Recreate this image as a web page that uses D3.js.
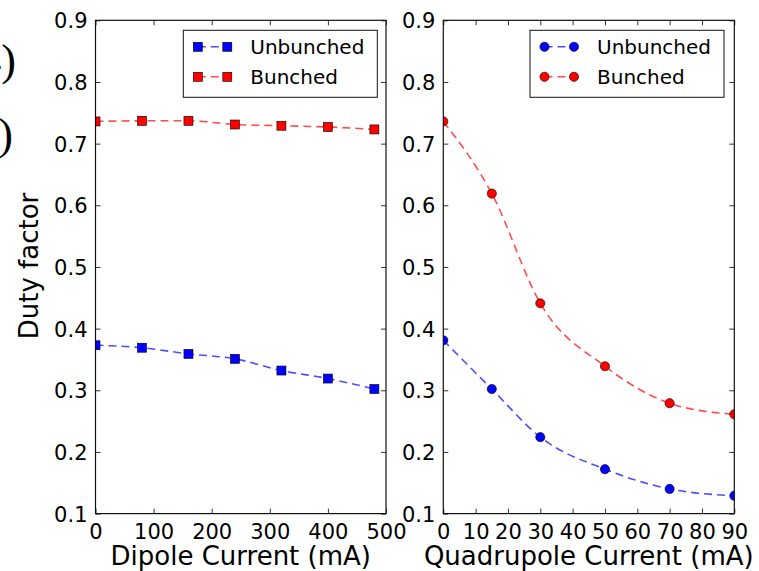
<!DOCTYPE html>
<html>
<head>
<meta charset="utf-8">
<script src="https://cdn.jsdelivr.net/npm/d3@7"></script>
<style>
  body { margin: 0; background: #fff; }
  text { font-family: "DejaVu Sans", sans-serif; fill: #000; }
  .tick-label { font-size: 21px; }
  .axis-title { font-size: 26px; }
  .legend-text { font-size: 20px; }
  .panel-letter { font-family: "Liberation Serif", serif; font-size: 44px; }
</style>
</head>
<body>
<script>
// Data.
var dipoleCurrent   = [0, 80, 160, 240, 320, 400, 480];
var dipoleUnbunched = [0.373, 0.369, 0.359, 0.351, 0.332, 0.319, 0.302];
var dipoleBunched   = [0.736, 0.737, 0.737, 0.731, 0.729, 0.727, 0.723];

var quadCurrent   = [0, 15, 30, 50, 70, 90];
var quadUnbunched = [0.381, 0.302, 0.224, 0.172, 0.140, 0.129];
var quadBunched   = [0.736, 0.619, 0.441, 0.339, 0.279, 0.261];

var dipoleTicks = [0, 100, 200, 300, 400, 500];
var quadTicks   = [0, 10, 20, 30, 40, 50, 60, 70, 80, 90];
var yTicks      = [0.1, 0.2, 0.3, 0.4, 0.5, 0.6, 0.7, 0.8, 0.9];
var seriesNames = ["Unbunched", "Bunched"];

var width = 759, height = 571;
var plotTop = 20.3, plotBottom = 513.6;

var svg = d3.select("body").append("svg")
    .attr("width", width)
    .attr("height", height);

// Cut-off panel letters from the neighbouring figure.
svg.append("text").attr("class", "panel-letter")
    .attr("x", 16).attr("y", 75).attr("text-anchor", "end").text("(4)");
svg.append("text").attr("class", "panel-letter")
    .attr("x", 13).attr("y", 149).attr("text-anchor", "end").text("(5)");

var y = d3.scaleLinear().domain([0.1, 0.9]).range([plotBottom, plotTop]);

var line = function(x) {
  return d3.line()
      .x(function(d) { return x(d[0]); })
      .y(function(d) { return y(d[1]); })
      .curve(d3.curveMonotoneX);
};

function drawMarker(g, shape, color, cx, cy) {
  if (shape === "square") {
    g.append("rect")
        .attr("x", cx - 4.5).attr("y", cy - 4.5)
        .attr("width", 9).attr("height", 9)
        .attr("fill", color).attr("stroke", "#000").attr("stroke-width", 0.6);
  } else {
    g.append("circle")
        .attr("cx", cx).attr("cy", cy).attr("r", 4.6)
        .attr("fill", color).attr("stroke", "#000").attr("stroke-width", 0.6);
  }
}

function drawPanel(id, left, right, xMax, xs, series, ticks, shape, title, legendRight) {
  var x = d3.scaleLinear().domain([0, xMax]).range([left, right]);
  var g = svg.append("g");

  g.append("clipPath").attr("id", id)
    .append("rect")
      .attr("x", left).attr("y", plotTop)
      .attr("width", right - left).attr("height", plotBottom - plotTop);

  var plot = g.append("g").attr("clip-path", "url(#" + id + ")");
  var colors = ["#0000ff", "#ff0000"];

  series.forEach(function(vals, i) {
    var pts = xs.map(function(v, j) { return [v, vals[j]]; });
    plot.append("path")
        .datum(pts)
        .attr("fill", "none")
        .attr("stroke", colors[i])
        .attr("stroke-opacity", 0.7)
        .attr("stroke-width", 1.6)
        .attr("stroke-dasharray", "8,5")
        .attr("d", line(x));
    pts.forEach(function(p) {
      drawMarker(plot, shape, colors[i], x(p[0]), y(p[1]));
    });
  });

  // Ticks pointing inwards on all four sides.
  g.append("g")
      .attr("transform", "translate(0," + plotBottom + ")")
      .call(d3.axisBottom(x).tickValues(ticks).tickSize(-5).tickFormat(d3.format("d")))
      .call(function(a) {
        a.select(".domain").remove();
        a.selectAll("line").attr("stroke", "#333");
        a.selectAll("text").attr("class", "tick-label").attr("dy", null).attr("y", 25);
      });
  g.append("g")
      .attr("transform", "translate(0," + plotTop + ")")
      .call(d3.axisTop(x).tickValues(ticks).tickSize(-5).tickFormat(""))
      .call(function(a) {
        a.select(".domain").remove();
        a.selectAll("line").attr("stroke", "#333");
      });
  g.append("g")
      .attr("transform", "translate(" + left + ",0)")
      .call(d3.axisLeft(y).tickValues(yTicks).tickSize(-5).tickFormat(d3.format(".1f")))
      .call(function(a) {
        a.select(".domain").remove();
        a.selectAll("line").attr("stroke", "#333");
        a.selectAll("text").attr("class", "tick-label").attr("x", -8).attr("dy", "0.36em");
      });
  g.append("g")
      .attr("transform", "translate(" + right + ",0)")
      .call(d3.axisRight(y).tickValues(yTicks).tickSize(-5).tickFormat(""))
      .call(function(a) {
        a.select(".domain").remove();
        a.selectAll("line").attr("stroke", "#333");
      });

  // Frame.
  g.append("rect")
      .attr("x", left).attr("y", plotTop)
      .attr("width", right - left).attr("height", plotBottom - plotTop)
      .attr("fill", "none").attr("stroke", "#111").attr("stroke-width", 1.2);

  // Axis title.
  g.append("text").attr("class", "axis-title")
      .attr("x", (left + right) / 2).attr("y", 565)
      .attr("text-anchor", "middle")
      .text(title);

  // Legend.
  var lw = 194, lh = 67;
  var lx = legendRight - lw, ly = plotTop + 10;
  var leg = g.append("g");
  leg.append("rect")
      .attr("x", lx).attr("y", ly).attr("width", lw).attr("height", lh)
      .attr("fill", "#fff").attr("stroke", "#111").attr("stroke-width", 1);
  seriesNames.forEach(function(name, i) {
    var ry = ly + 16.5 + i * 30;
    var m1 = lx + 14.5, m2 = lx + 44;
    leg.append("line")
        .attr("x1", m1).attr("x2", m2).attr("y1", ry).attr("y2", ry)
        .attr("stroke", colors[i]).attr("stroke-opacity", 0.7)
        .attr("stroke-width", 1.6).attr("stroke-dasharray", "8,5");
    drawMarker(leg, shape, colors[i], m1, ry);
    drawMarker(leg, shape, colors[i], m2, ry);
    leg.append("text").attr("class", "legend-text")
        .attr("x", lx + 67).attr("y", ry + 7)
        .text(name);
  });
}

drawPanel("clipDipole", 95.5, 386, 500, dipoleCurrent,
    [dipoleUnbunched, dipoleBunched], dipoleTicks, "square", "Dipole Current (mA)", 377.3);
drawPanel("clipQuad", 443.3, 734.3, 90, quadCurrent,
    [quadUnbunched, quadBunched], quadTicks, "circle", "Quadrupole Current (mA)", 724);

// Shared y-axis title.
svg.append("text").attr("class", "axis-title")
    .attr("transform", "translate(38,266) rotate(-90)")
    .attr("text-anchor", "middle")
    .text("Duty factor");
</script>
</body>
</html>
